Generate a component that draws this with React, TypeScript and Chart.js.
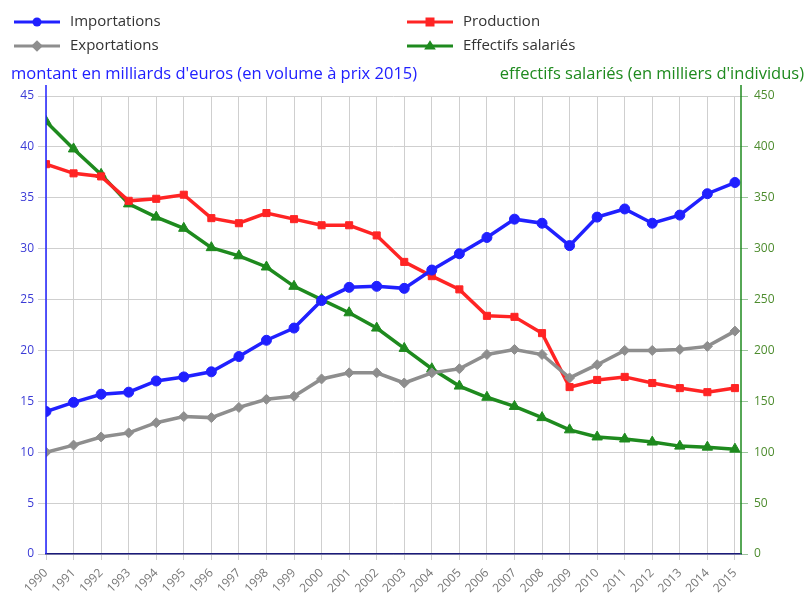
import React, { useEffect, useRef } from "react";
import { Chart, registerables } from "chart.js";

Chart.register(...registerables);

const years = [1990, 1991, 1992, 1993, 1994, 1995, 1996, 1997, 1998, 1999, 2000, 2001, 2002, 2003, 2004, 2005, 2006, 2007, 2008, 2009, 2010, 2011, 2012, 2013, 2014, 2015];
const importations = [14.0, 14.9, 15.7, 15.9, 17.0, 17.4, 17.9, 19.4, 21.0, 22.2, 24.9, 26.2, 26.3, 26.1, 27.9, 29.5, 31.1, 32.9, 32.5, 30.3, 33.1, 33.9, 32.5, 33.3, 35.4, 36.5];
const exportations = [10.0, 10.7, 11.5, 11.9, 12.9, 13.5, 13.4, 14.4, 15.2, 15.5, 17.2, 17.8, 17.8, 16.8, 17.8, 18.2, 19.6, 20.1, 19.6, 17.3, 18.6, 20.0, 20.0, 20.1, 20.4, 21.9];
const production = [38.3, 37.4, 37.1, 34.7, 34.9, 35.3, 33.0, 32.5, 33.5, 32.9, 32.3, 32.3, 31.3, 28.7, 27.3, 26.0, 23.4, 23.3, 21.7, 16.4, 17.1, 17.4, 16.8, 16.3, 15.9, 16.3];
const effectifs = [425, 398, 373, 344, 331, 320, 301, 293, 282, 263, 250, 237, 222, 202, 182, 165, 154, 145, 134, 122, 115, 113, 110, 106, 105, 103];

const leftTitle = "montant en milliards d'euros (en volume à prix 2015)";
const rightTitle = "effectifs salariés (en milliers d'individus)";

const BLUE = "#2020ff";
const RED = "#ff2424";
const GREY = "#8e8e8e";
const GREEN = "#1e8a1e";
const FONT = "'Open Sans', 'Noto Sans', sans-serif";

const toPoints = (vals: number[]) => vals.map((v, i) => ({ x: years[i], y: v }));

function drawMarker(ctx: CanvasRenderingContext2D, style: string, x: number, y: number, r: number) {
  ctx.beginPath();
  if (style === "circle") {
    ctx.arc(x, y, r, 0, Math.PI * 2);
  } else if (style === "rect") {
    ctx.rect(x - r, y - r, 2 * r, 2 * r);
  } else if (style === "rectRot") {
    ctx.moveTo(x, y - r * 1.3);
    ctx.lineTo(x + r * 1.3, y);
    ctx.lineTo(x, y + r * 1.3);
    ctx.lineTo(x - r * 1.3, y);
    ctx.closePath();
  } else if (style === "triangle") {
    const h = r * 1.3;
    ctx.moveTo(x, y - h);
    ctx.lineTo(x + h, y + h * 0.6);
    ctx.lineTo(x - h, y + h * 0.6);
    ctx.closePath();
  }
  ctx.fill();
}

const overlayPlugin = {
  id: "overlay",
  afterDraw(chart: any) {
    const ctx = chart.ctx;
    const area = chart.chartArea;
    ctx.save();
    // y axis lines (extend a little above the plot)
    ctx.lineWidth = 1.5;
    ctx.strokeStyle = BLUE;
    ctx.beginPath();
    ctx.moveTo(area.left, 85);
    ctx.lineTo(area.left, area.bottom);
    ctx.stroke();
    ctx.strokeStyle = GREEN;
    ctx.beginPath();
    ctx.moveTo(area.right, 85);
    ctx.lineTo(area.right, area.bottom);
    ctx.stroke();

    // legend
    const items = [
      { ds: 0, x: 14, y: 22 },
      { ds: 2, x: 407, y: 22 },
      { ds: 1, x: 14, y: 46 },
      { ds: 3, x: 407, y: 46 },
    ];
    items.forEach((it) => {
      const ds = chart.data.datasets[it.ds];
      ctx.strokeStyle = ds.borderColor;
      ctx.lineWidth = 3;
      ctx.beginPath();
      ctx.moveTo(it.x, it.y);
      ctx.lineTo(it.x + 46, it.y);
      ctx.stroke();
      ctx.fillStyle = ds.backgroundColor;
      drawMarker(ctx, ds.pointStyle, it.x + 23, it.y, 4.5);
      ctx.fillStyle = "#333";
      ctx.font = `15px ${FONT}`;
      ctx.textBaseline = "middle";
      ctx.textAlign = "left";
      ctx.fillText(ds.label, it.x + 56, it.y);
    });

    // axis titles
    ctx.font = `16.5px ${FONT}`;
    ctx.textBaseline = "middle";
    ctx.textAlign = "left";
    ctx.fillStyle = BLUE;
    ctx.fillText(leftTitle, 11, 74);
    ctx.textAlign = "right";
    ctx.fillStyle = GREEN;
    ctx.fillText(rightTitle, 804, 74);
    ctx.restore();
  },
};

export default function App() {
  const ref = useRef<HTMLCanvasElement | null>(null);

  useEffect(() => {
    if (!ref.current) return;
    const mk = (label: string, vals: number[], color: string, style: string, axis: string, radius: number) => ({
      label,
      data: toPoints(vals),
      borderColor: color,
      backgroundColor: color,
      pointBackgroundColor: color,
      pointBorderColor: color,
      pointStyle: style,
      pointRadius: radius,
      pointBorderWidth: 1,
      borderWidth: 3.5,
      tension: 0,
      yAxisID: axis,
    });
    const chart = new Chart(ref.current, {
      type: "line",
      data: {
        datasets: [
          mk("Importations", importations, BLUE, "circle", "y", 5),
          mk("Exportations", exportations, GREY, "rectRot", "y", 5),
          mk("Production", production, RED, "rect", "y", 5),
          mk("Effectifs salariés", effectifs, GREEN, "triangle", "y1", 6),
        ],
      },
      options: {
        responsive: false,
        animation: false,
        layout: { padding: { top: 96, left: 0, right: 0, bottom: 0 } },
        plugins: { legend: { display: false }, tooltip: { enabled: false } },
        scales: {
          x: {
            type: "linear",
            min: 1990,
            max: 2015.22,
            afterFit: (s: any) => {
              s.height = 41;
            },
            afterBuildTicks: (s: any) => {
              s.ticks = years.map((y) => ({ value: y }));
            },
            ticks: {
              stepSize: 1,
              autoSkip: false,
              minRotation: 45,
              maxRotation: 45,
              color: "#777",
              font: { family: FONT, size: 12 },
              padding: 6,
              callback: (v: any) => String(v),
            },
            grid: { color: "#cfcfcf", lineWidth: 1, tickLength: 6 },
            border: { color: "#1a1a7a", width: 1.5 },
          },
          y: {
            position: "left",
            min: 0,
            max: 45,
            afterFit: (s: any) => {
              s.width = 46;
            },
            ticks: {
              stepSize: 5,
              color: "#3b3bd6",
              font: { family: FONT, size: 12 },
              padding: 4,
            },
            grid: { color: "#cfcfcf", lineWidth: 1, tickLength: 8 },
            border: { display: false },
          },
          y1: {
            position: "right",
            min: 0,
            max: 450,
            afterFit: (s: any) => {
              s.width = 63;
            },
            ticks: {
              stepSize: 50,
              color: "#4d8c2e",
              font: { family: FONT, size: 12 },
              padding: 6,
            },
            grid: { drawOnChartArea: false, color: "#9cc49c", tickLength: 7 },
            border: { display: false },
          },
        },
      },
      plugins: [overlayPlugin],
    } as any);
    return () => chart.destroy();
  }, []);

  return (
    <div style={{ position: "absolute", top: 0, left: 0, width: 804, height: 595, background: "#fff" }}>
      <canvas ref={ref} width={804} height={595} style={{ display: "block" }} />
    </div>
  );
}
